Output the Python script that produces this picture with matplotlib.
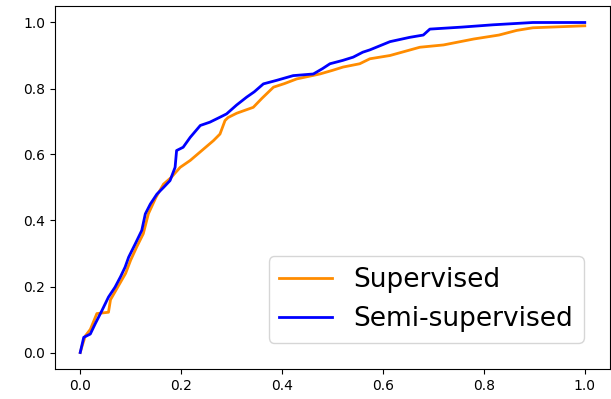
import matplotlib
matplotlib.use("Agg")
import matplotlib.pyplot as plt

# supervised ROC
sup_fpr = [0.0, 0.003, 0.01, 0.02, 0.033, 0.056, 0.06, 0.075, 0.09, 0.1,
           0.112, 0.125, 0.135, 0.15, 0.165, 0.18, 0.198, 0.218, 0.241, 0.264,
           0.277, 0.287, 0.293, 0.31, 0.343, 0.36, 0.383, 0.405, 0.429, 0.475,
           0.5, 0.521, 0.554, 0.574, 0.614, 0.673, 0.72, 0.78, 0.83, 0.865,
           0.897, 1.0]
sup_tpr = [0.0, 0.016, 0.05, 0.07, 0.118, 0.122, 0.16, 0.2, 0.24, 0.28,
           0.32, 0.36, 0.42, 0.47, 0.51, 0.53, 0.561, 0.582, 0.612, 0.642,
           0.662, 0.703, 0.712, 0.725, 0.743, 0.77, 0.804, 0.815, 0.829, 0.844,
           0.855, 0.865, 0.875, 0.89, 0.9, 0.925, 0.932, 0.95, 0.962, 0.976,
           0.984, 0.99]

# semi-supervised ROC
semi_fpr = [0.0, 0.007, 0.02, 0.03, 0.043, 0.056, 0.069, 0.08, 0.089, 0.096,
            0.109, 0.122, 0.129, 0.139, 0.152, 0.165, 0.178, 0.188, 0.191, 0.204,
            0.218, 0.228, 0.238, 0.257, 0.277, 0.29, 0.31, 0.33, 0.345, 0.363,
            0.39, 0.422, 0.462, 0.48, 0.495, 0.52, 0.541, 0.56, 0.574, 0.614,
            0.653, 0.68, 0.693, 0.756, 0.818, 0.897, 1.0]
semi_tpr = [0.0, 0.046, 0.056, 0.088, 0.127, 0.168, 0.198, 0.23, 0.259, 0.289,
            0.329, 0.37, 0.42, 0.45, 0.48, 0.5, 0.521, 0.561, 0.612, 0.622,
            0.652, 0.67, 0.688, 0.698, 0.713, 0.723, 0.75, 0.774, 0.79, 0.814,
            0.825, 0.839, 0.844, 0.86, 0.875, 0.885, 0.895, 0.91, 0.917, 0.942,
            0.955, 0.962, 0.98, 0.986, 0.993, 1.0, 1.0]

fig = plt.figure(figsize=(6.11, 3.99), dpi=100)
ax = fig.add_axes([55 / 611, 1 - 369 / 399, 555 / 611, 363 / 399])

ax.plot(sup_fpr, sup_tpr, color="darkorange", lw=2, label="Supervised")
ax.plot(semi_fpr, semi_tpr, color="blue", lw=2, label="Semi-supervised")

ax.set_xlim(-0.05, 1.05)
ax.set_ylim(-0.05, 1.05)
ax.legend(loc="lower right", fontsize=19, borderaxespad=1.0)

fig.savefig("out.png", dpi=100)
